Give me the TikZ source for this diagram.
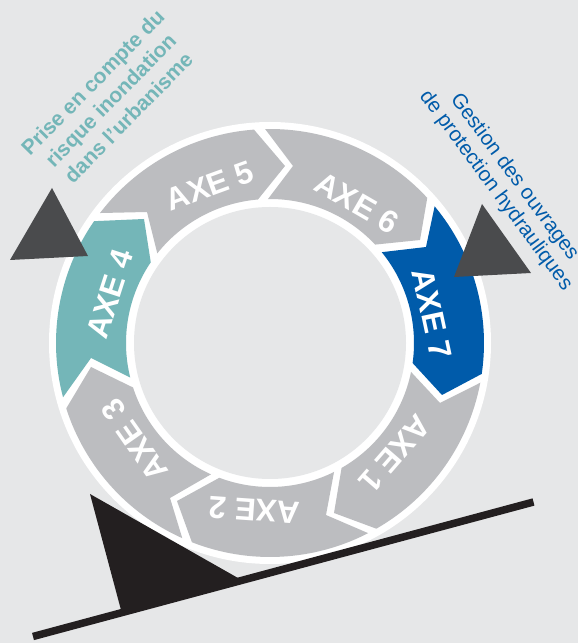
\documentclass[tikz,border=0pt]{standalone}
\usepackage{fontspec}
\setmainfont{Liberation Sans}
\definecolor{bgc}{HTML}{E6E7E8}
\definecolor{greyc}{HTML}{BCBDC0}
\definecolor{bluec}{HTML}{005BAA}
\definecolor{tealc}{HTML}{74B6B8}
\definecolor{darkc}{HTML}{4A4B4D}
\definecolor{blackc}{HTML}{231F20}
\tikzset{
  axelabel/.style={text=white,font=\bfseries\fontsize{31.5}{32}\selectfont,inner sep=0pt},
  tealnote/.style={text=tealc,font=\bfseries\fontsize{21}{25}\selectfont,align=center,inner sep=0pt},
  bluenote/.style={text=bluec,font=\fontsize{20.7}{23}\selectfont,align=center,inner sep=0pt},
}
% #1 colour; #2,#3 outer arc angles; #4 tip; #5,#6 inner arc angles; #7 notch
\newcommand{\axeseg}[7]{%
  \fill[#1] ([shift={(270,300)}]#2:214) arc[start angle=#2,end angle=#3,radius=214]
    -- (#4) -- ([shift={(270,300)}]#5:144) arc[start angle=#5,end angle=#6,radius=144]
    -- (#7) -- cycle;}
\begin{document}
\begin{tikzpicture}[x=1pt,y=1pt]
\useasboundingbox (0,0) rectangle (578,643);
\fill[bgc] (0,0) rectangle (578,643);
\fill[white] (270,300) circle[radius=221];
\fill[bgc] (270,300) circle[radius=136];
\axeseg{tealc}{194.7}{145.3}{144,424}{145.9}{193.9}{91,285}
\axeseg{greyc}{142.6}{94.3}{285,477}{94.8}{141.5}{147,431}
\axeseg{greyc}{91.3}{42.7}{420,403}{43.1}{90.8}{293,477}
\axeseg{bluec}{39.7}{-8.3}{442,248}{-8}{39.1}{426,396}
\axeseg{greyc}{-10.7}{-60.2}{334,130}{-60.2}{-11.6}{440,240}
\axeseg{greyc}{-62.7}{-111.4}{177,142}{-110.6}{-63.6}{326,128}
\axeseg{greyc}{-114.2}{-162.2}{91,276}{-162}{-114.2}{170,145}
\node[axelabel,rotate=72] (a4) at (110,349) {AXE 4};
\node[axelabel,rotate=20] (a5) at (210,457) {AXE 5};
\node[axelabel,rotate=-30] (a6) at (357,440) {AXE 6};
\node[axelabel,rotate=-78] (a7) at (432,329) {AXE 7};
\node[axelabel,rotate=-131] (a1) at (395,189) {AXE 1};
\node[axelabel,rotate=-184] (a2) at (254,133) {AXE 2};
\node[axelabel,rotate=125] (a3) at (135,203) {AXE 3};
\fill[darkc] (52,455) -- (10,383) -- (88,387) -- cycle;
\fill[darkc] (482,439) -- (454,366) -- (531,370) -- cycle;
\fill[blackc] (90,149) -- (121,33) -- (238,65) -- cycle;
\draw[blackc,line width=7.5pt] (33,6.5) -- (533.5,141);
\node[tealnote,rotate=45.5] (prise) at (110.5,543) {Prise en compte du\\risque inondation\\dans l’urbanisme};
\node[bluenote,rotate=-53.5] (gestion) at (505,459) {Gestion des ouvrages\\de protection hydrauliques};
\end{tikzpicture}
\end{document}
